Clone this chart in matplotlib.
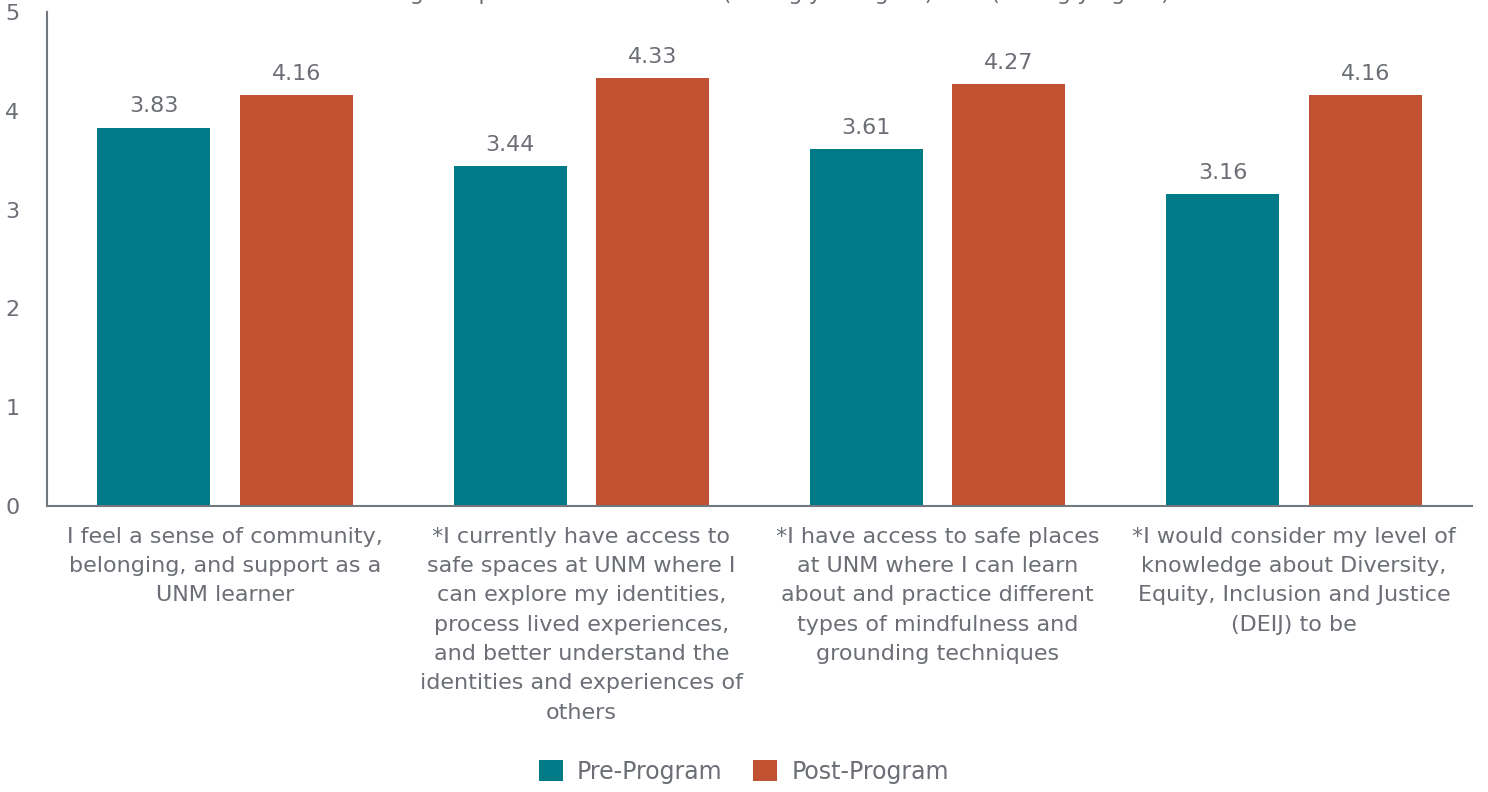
import matplotlib
matplotlib.use("Agg")
import matplotlib.pyplot as plt
import numpy as np

categories = [
    "I feel a sense of community,\nbelonging, and support as a\nUNM learner",
    "*I currently have access to\nsafe spaces at UNM where I\ncan explore my identities,\nprocess lived experiences,\nand better understand the\nidentities and experiences of\nothers",
    "*I have access to safe places\nat UNM where I can learn\nabout and practice different\ntypes of mindfulness and\ngrounding techniques",
    "*I would consider my level of\nknowledge about Diversity,\nEquity, Inclusion and Justice\n(DEIJ) to be",
]
pre_values = [3.83, 3.44, 3.61, 3.16]
post_values = [4.16, 4.33, 4.27, 4.16]
series_names = ["Pre-Program", "Post-Program"]
yticks = [0, 1, 2, 3, 4, 5]
title = "Average response on a scale of 1 (strongly disagree) to 5 (strongly agree)"

TEAL = "#007A87"
ORANGE = "#C05131"
TXT = "#6B6E75"
AX = "#737880"
FS = 16

plt.rcParams['font.family'] = ['DejaVu Sans']
fig = plt.figure(figsize=(14.88, 7.92), dpi=100)
ax = fig.add_axes([47/1488, 1-506/792, (1472-47)/1488, (506-12)/792])

x = np.arange(len(categories))
w = 0.317
b1 = ax.bar(x - 0.2, pre_values, w, color=TEAL, label=series_names[0])
b2 = ax.bar(x + 0.2, post_values, w, color=ORANGE, label=series_names[1])
for bars, vals in ((b1, pre_values), (b2, post_values)):
    for r, v in zip(bars, vals):
        ax.annotate(f"{v:.2f}", (r.get_x() + r.get_width()/2, v), xytext=(0, 8),
                    textcoords="offset points", ha="center", va="bottom",
                    fontsize=FS, color=TXT)

ax.set_xlim(-0.5, 3.5)
ax.set_ylim(0, 5)
ax.set_yticks(yticks)
ax.set_yticklabels([str(t) for t in yticks], fontsize=FS, color=TXT)
ax.set_xticks(x)
ax.set_xticklabels(categories, fontsize=FS, color=TXT, linespacing=1.58)
ax.tick_params(axis='both', length=0)
ax.tick_params(axis='x', pad=15)
for s in ("top", "right"):
    ax.spines[s].set_visible(False)
for s in ("left", "bottom"):
    ax.spines[s].set_color(AX)
    ax.spines[s].set_linewidth(1.5)
for lbl in ax.get_yticklabels():
    lbl.set_horizontalalignment('left')
ax.tick_params(axis='y', pad=30)

fig.text(0.509, 1 + 0.5/792, title, ha="center", va="baseline", fontsize=FS, color=TXT)

leg = fig.legend(handles=[b1, b2], labels=series_names, loc="center", bbox_to_anchor=(0.5, 1-772/792),
                 ncol=2, frameon=False, fontsize=FS + 1, handlelength=1.0, handleheight=1.0,
                 columnspacing=1.3, handletextpad=0.6)
for t in leg.get_texts():
    t.set_color(TXT)

fig.savefig("out.png", dpi=100)
